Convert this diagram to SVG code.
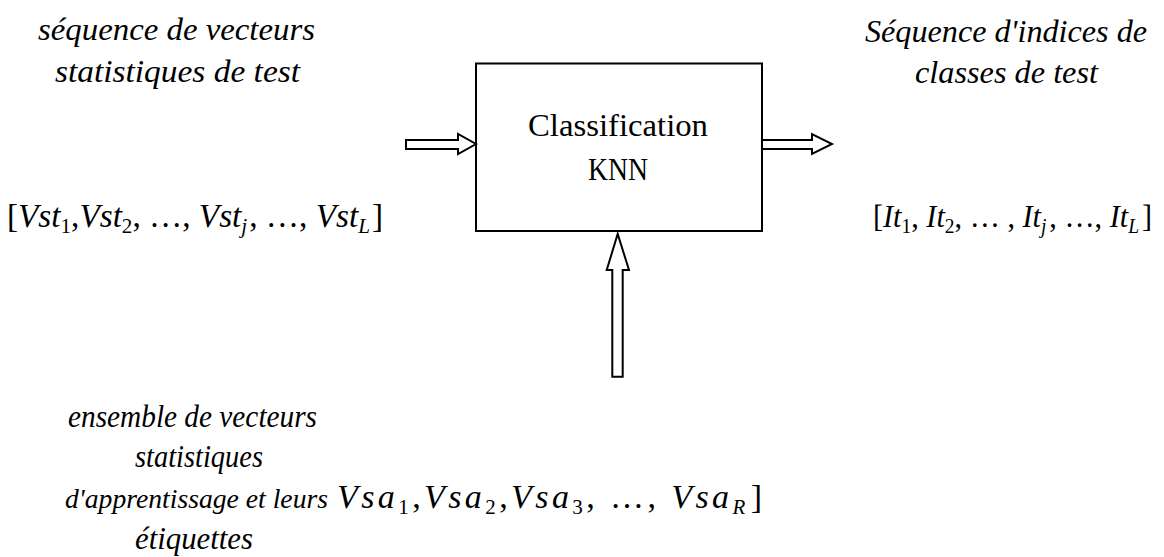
<svg xmlns="http://www.w3.org/2000/svg" width="1164" height="557" viewBox="0 0 1164 557">
<style>
.lbl{font-family:"Liberation Serif","Times New Roman",serif;font-style:italic;font-size:31px;fill:#000}
.box{font-family:"Liberation Serif","Times New Roman",serif;font-size:31px;fill:#000}
.math{font-family:"Liberation Serif","Times New Roman",serif;font-size:33px;fill:#000}
.v{font-style:italic}
.sub{font-size:21px}
.arr{fill:#fff;stroke:#000;stroke-width:2;stroke-linejoin:miter}
</style>
<rect width="1164" height="557" fill="#fff"/>
<g id="input-label">
<text class="lbl" x="38" y="40" textLength="277" lengthAdjust="spacingAndGlyphs">séquence de vecteurs</text>
<text class="lbl" x="55" y="82" textLength="245" lengthAdjust="spacingAndGlyphs">statistiques de test</text>
<text class="math" x="7" y="227" textLength="376" lengthAdjust="spacingAndGlyphs">[<tspan class="v">Vst</tspan><tspan class="sub" dy="6">1</tspan><tspan dy="-6">,</tspan><tspan class="v">Vst</tspan><tspan class="sub" dy="6">2</tspan><tspan dy="-6">, …, </tspan><tspan class="v">Vst</tspan><tspan class="sub v" dy="6">j</tspan><tspan dy="-6" dx="2">, …, </tspan><tspan class="v">Vst</tspan><tspan class="sub v" dy="6">L</tspan><tspan dy="-6" dx="2">]</tspan></text>
</g>
<g id="output-label">
<text class="lbl" x="865" y="42" textLength="282" lengthAdjust="spacingAndGlyphs">Séquence d'indices de</text>
<text class="lbl" x="915" y="83" textLength="183" lengthAdjust="spacingAndGlyphs">classes de test</text>
<text class="math" x="873" y="227" style="font-size:31px" textLength="279" lengthAdjust="spacingAndGlyphs">[<tspan class="v">It</tspan><tspan class="sub" dy="6" style="font-size:20px">1</tspan><tspan dy="-6">, </tspan><tspan class="v">It</tspan><tspan class="sub" dy="6" style="font-size:20px">2</tspan><tspan dy="-6">, … , </tspan><tspan class="v">It</tspan><tspan class="sub v" dy="6" style="font-size:20px">j</tspan><tspan dy="-6" dx="3">, …, </tspan><tspan class="v">It</tspan><tspan class="sub v" dy="6" style="font-size:20px">L</tspan><tspan dy="-6" dx="3">]</tspan></text>
</g>
<g id="classifier">
<rect x="476" y="63.5" width="286" height="167.5" fill="#fff" stroke="#000" stroke-width="2"/>
<text class="box" x="528" y="136" textLength="180" lengthAdjust="spacingAndGlyphs">Classification</text>
<text class="box" x="588" y="180" textLength="60" lengthAdjust="spacingAndGlyphs">KNN</text>
</g>
<g id="training-label">
<text class="lbl" x="68" y="427" textLength="249" lengthAdjust="spacingAndGlyphs">ensemble de vecteurs</text>
<text class="lbl" x="135" y="467" textLength="128" lengthAdjust="spacingAndGlyphs">statistiques</text>
<text class="lbl" x="65" y="508" textLength="263" lengthAdjust="spacingAndGlyphs" style="font-size:28px">d'apprentissage et leurs</text>
<text class="lbl" x="135" y="549" textLength="118" lengthAdjust="spacingAndGlyphs">étiquettes</text>
<text class="math" x="337" y="508" style="font-size:34px" textLength="425" lengthAdjust="spacing"><tspan class="v">Vsa</tspan><tspan class="sub" dy="6">1</tspan><tspan dy="-6">,</tspan><tspan class="v">Vsa</tspan><tspan class="sub" dy="6">2</tspan><tspan dy="-6">,</tspan><tspan class="v">Vsa</tspan><tspan class="sub" dy="6">3</tspan><tspan dy="-6">, …, </tspan><tspan class="v">Vsa</tspan><tspan class="sub v" dy="6">R</tspan><tspan dy="-6" dx="2">]</tspan></text>
</g>
<g id="connectors">
<polygon class="arr" points="406,140 458,140 458,134 476,144 458,154 458,149 406,149"/>
<polygon class="arr" points="762,140 812,140 812,134 832,144 812,154 812,149 762,149"/>
<polygon class="arr" points="612.3,376.7 612.3,270 606.7,270 617.7,234 629,270 622.7,270 622.7,376.7"/>
</g>
</svg>
